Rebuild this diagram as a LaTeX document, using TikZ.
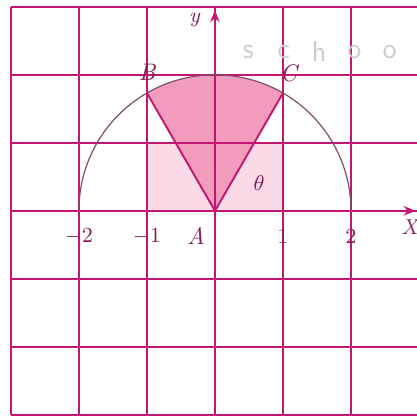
\documentclass[tikz,border=0pt]{standalone}
\usepackage{amsmath,amssymb}
\usepackage{xcolor}
\usepackage{tikz}
\usetikzlibrary{arrows.meta, positioning, calc}
\definecolor{GridMag}{RGB}{196,22,112}
\definecolor{LabelMag}{RGB}{135,28,88}
\definecolor{SectorPink}{RGB}{242,155,188}
\definecolor{PalePink}{RGB}{251,218,232}
\definecolor{ArcGray}{RGB}{125,80,105}

\begin{document}
\begin{tikzpicture}[font=\fontsize{9}{10}\selectfont,
    gridline/.style={GridMag, line width=0.65pt},
    axisline/.style={GridMag, line width=1pt, -{Stealth[length=5pt,width=4pt]}},
    lbl/.style={LabelMag, inner sep=1pt}]
  \def\R{2}   % radius of the circle
  \def\N{3}   % half size of the grid

  \useasboundingbox (-3.16,-3.06) rectangle (2.97,3.10);

  \coordinate (A) at (0,0);
  \coordinate (B) at (120:\R);
  \coordinate (C) at (60:\R);

  % shading
  \fill[PalePink] (-1,0) rectangle (1,1);
  \fill[SectorPink] (A) -- (B) arc[start angle=120, end angle=60, radius=\R] -- cycle;

  % grid
  \foreach \k in {-3,...,3}{
    \draw[gridline] (\k,-\N) -- (\k,\N);
    \draw[gridline] (-\N,\k) -- (\N,\k);
  }

  % axes
  \draw[axisline] (-\N,0) -- (2.95,0);
  \draw[axisline] (0,-\N) -- (0,2.95);

  % circle and sector sides
  \draw[ArcGray, line width=0.5pt] (\R,0) arc[start angle=0, end angle=180, radius=\R];
  \draw[GridMag, line width=0.8pt] (B) -- (A) -- (C);

  % labels
  \node[lbl, font=\fontsize{9}{10}\itshape] (ylab) at (-0.30,2.81) {y};
  \node[lbl, font=\fontsize{9}{10}\itshape] (xlab) at (2.86,-0.24) {X};
  \node[lbl, font=\fontsize{10}{11}\itshape] (Blab) at (-1.0,2.03) {B};
  \node[lbl, font=\fontsize{10}{11}\itshape] (Clab) at (1.08,2.02) {C};
  \node[lbl, font=\fontsize{10}{11}\itshape] (Alab) at (-0.28,-0.37) {A};
  \node[lbl] (theta) at (0.65,0.41) {$\theta$};
  \foreach \v/\t in {-2/$-$2, -1/$-$1, 1/1, 2/2}
    \node[lbl] (n\v) at (\v,-0.38) {\t};

  % watermark
  \foreach \ch [count=\i] in {s,c,h,o,o}
    \node[gray!40, font=\sffamily\fontsize{12}{13}\selectfont] (wm\i) at (-0.03+0.52*\i,2.34) {\ch};
\end{tikzpicture}
\end{document}
